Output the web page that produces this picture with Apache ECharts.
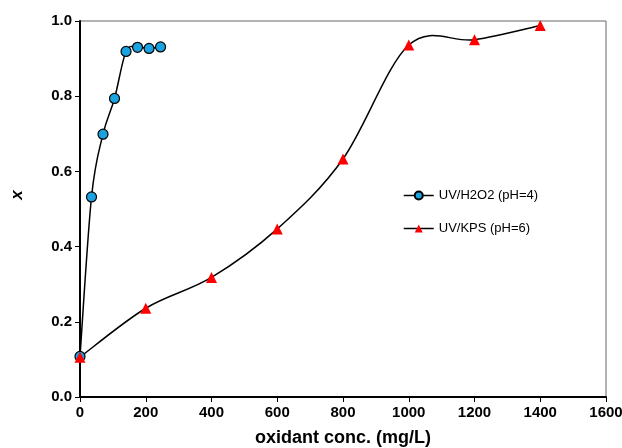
<!DOCTYPE html>
<html>
<head>
<meta charset="utf-8">
<script src="https://cdn.jsdelivr.net/npm/echarts@6/dist/echarts.min.js"></script>
<style>
  html, body { margin: 0; padding: 0; background: #fff; }
  #chart { width: 622px; height: 448px; }
</style>
</head>
<body>
<div id="chart"></div>
<script>
// Oxidant dose (mg/L) and conversion x for each process
const h2o2Dose = [0, 35, 70, 105, 140, 175, 210, 245];
const h2o2X = [0.108, 0.532, 0.699, 0.794, 0.919, 0.930, 0.927, 0.931];
const kpsDose = [0, 200, 400, 600, 800, 1000, 1200, 1400];
const kpsX = [0.106, 0.236, 0.318, 0.447, 0.633, 0.936, 0.950, 0.988];

const seriesNames = ['UV/H2O2 (pH=4)', 'UV/KPS (pH=6)'];
const xTitle = 'oxidant conc. (mg/L)';
const yTitle = 'x';

const pair = (xs, ys) => xs.map((v, i) => [v, ys[i]]);
const h2o2Pts = pair(h2o2Dose, h2o2X);
const kpsPts = pair(kpsDose, kpsX);

const FONT = '"Liberation Sans", Arial, sans-serif';
const LINE_W = 1.5;

// Smoothed connector: Catmull-Rom segment between point i and i+1,
// computed in pixel space from the axis scales.
function splineSegment(pts) {
  return function (params, api) {
    const i = params.dataIndex;
    const n = pts.length;
    if (i >= n - 1) return null;
    const p0 = api.coord(pts[Math.max(i - 1, 0)]);
    const p1 = api.coord(pts[i]);
    const p2 = api.coord(pts[i + 1]);
    const p3 = api.coord(pts[Math.min(i + 2, n - 1)]);
    return {
      type: 'bezierCurve',
      shape: {
        x1: p1[0], y1: p1[1],
        x2: p2[0], y2: p2[1],
        cpx1: p1[0] + (p2[0] - p0[0]) / 6,
        cpy1: p1[1] + (p2[1] - p0[1]) / 6,
        cpx2: p2[0] - (p3[0] - p1[0]) / 6,
        cpy2: p2[1] - (p3[1] - p1[1]) / 6
      },
      style: { stroke: '#000', lineWidth: LINE_W, fill: null }
    };
  };
}

const chart = echarts.init(document.getElementById('chart'), null, { renderer: 'canvas' });

chart.setOption({
  animation: false,
  backgroundColor: '#ffffff',
  grid: {
    left: 80, right: 16, top: 21, bottom: 51,
    outerBoundsMode: 'none', containLabel: false,
    show: true, borderColor: '#666666', borderWidth: 1, backgroundColor: 'transparent'
  },
  legend: {
    orient: 'vertical',
    left: 398, top: 184,
    itemWidth: 30, itemHeight: 10, itemGap: 20,
    textStyle: { fontFamily: FONT, fontSize: 13, color: '#000' },
    data: seriesNames.map(name => ({
      name,
      lineStyle: { color: '#000', width: LINE_W, opacity: 1 }
    }))
  },
  xAxis: {
    type: 'value', min: 0, max: 1600, interval: 200,
    name: xTitle, nameLocation: 'middle', nameGap: 32,
    nameTextStyle: { fontFamily: FONT, fontSize: 18, fontWeight: 'bold', color: '#000' },
    axisLine: { show: true, onZero: false, lineStyle: { color: '#000', width: 2 } },
    axisTick: { show: true, inside: false, length: 5, lineStyle: { color: '#000', width: 1 } },
    axisLabel: { fontFamily: FONT, fontSize: 15, fontWeight: 'bold', color: '#000', margin: 8,
      formatter: v => String(v) },
    splitLine: { show: false }
  },
  yAxis: {
    type: 'value', min: 0, max: 1, interval: 0.2,
    name: yTitle, nameLocation: 'middle', nameGap: 54,
    nameTextStyle: { fontFamily: FONT, fontSize: 17, fontWeight: 'bold', fontStyle: 'italic', color: '#000',
      padding: [0, 0, 0, 28] },
    axisLine: { show: true, onZero: false, lineStyle: { color: '#000', width: 2 } },
    axisTick: { show: true, inside: false, length: 5, lineStyle: { color: '#000', width: 1 } },
    axisLabel: { fontFamily: FONT, fontSize: 15, fontWeight: 'bold', color: '#000', margin: 8,
      formatter: v => v.toFixed(1) },
    splitLine: { show: false }
  },
  series: [
    {
      type: 'custom', name: 'h2o2-curve', data: h2o2Pts,
      renderItem: splineSegment(h2o2Pts), silent: true, z: 2
    },
    {
      type: 'custom', name: 'kps-curve', data: kpsPts,
      renderItem: splineSegment(kpsPts), silent: true, z: 2
    },
    {
      name: seriesNames[0], type: 'line', data: h2o2Pts,
      symbol: 'circle', symbolSize: 10,
      lineStyle: { color: '#000', width: LINE_W, opacity: 0 },
      itemStyle: { color: '#1aa3e0', borderColor: '#000', borderWidth: 1.2 },
      z: 3
    },
    {
      name: seriesNames[1], type: 'line', data: kpsPts,
      symbol: 'triangle', symbolSize: 11,
      lineStyle: { color: '#000', width: LINE_W, opacity: 0 },
      itemStyle: { color: '#ff0000', borderWidth: 0 },
      z: 4
    }
  ]
});
</script>
</body>
</html>
